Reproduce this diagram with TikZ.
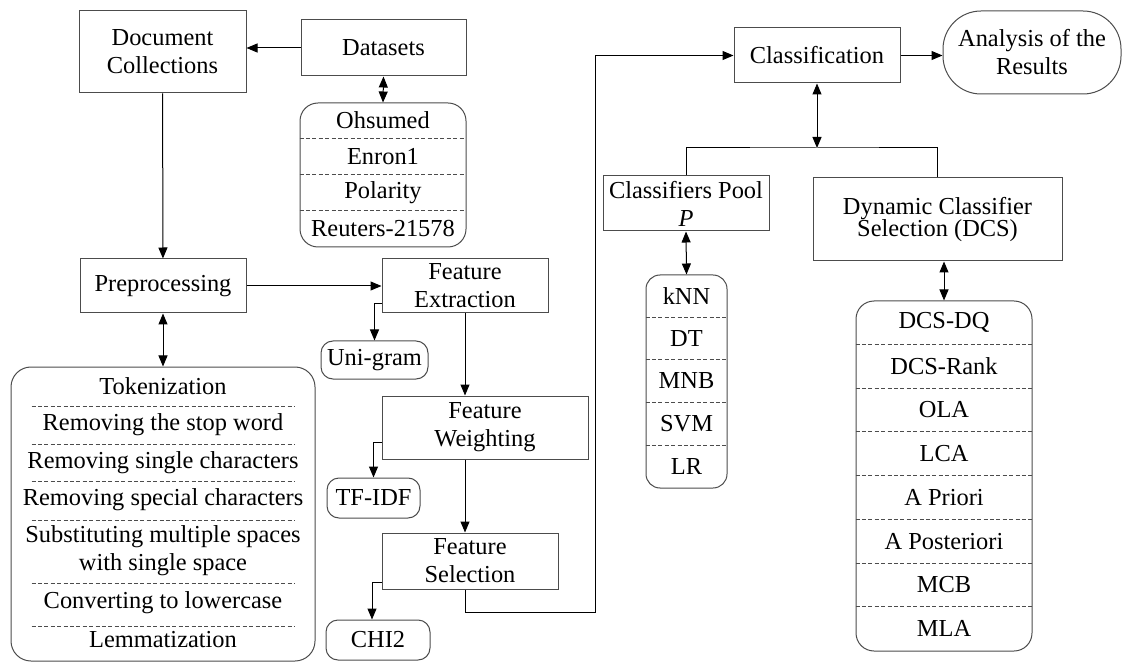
\documentclass[tikz,border=0pt]{standalone}
\usepackage{fontspec}
\setmainfont{Liberation Serif}
\usetikzlibrary{arrows.meta}

\begin{document}
\begin{tikzpicture}[x=0.5pt, y=-0.5pt, line width=0.5pt, >={Triangle[length=5.5pt,width=4.5pt]},
	every node/.style = {font=\fontsize{12.2}{14}\selectfont},
	main/.style = {draw=black!70, align=center, inner sep=0pt},
	list/.style = {draw=black!70, rounded corners=9pt, inner sep=0pt},
	leaf/.style = {draw=black!70, rounded corners=6pt, inner sep=0pt},
	sep/.style = {draw=black!70, line width=0.4pt, dash pattern=on 2pt off 1.2pt}]
	\useasboundingbox (0,0) rectangle (1123,662);
	% left column
	\node[main, minimum width=83.5pt, minimum height=41pt] (doc) at (162.5,52) {Document\\Collections};
	\node[main, minimum width=82.5pt, minimum height=28pt] (data) at (383.5,48) {Datasets};
	\node[list, minimum width=83pt, minimum height=72pt] (dlist) at (383,175) {};
	\foreach \t [count=\i] in {Ohsumed,Enron1,Polarity,Reuters-21578}
		\path (dlist.north) ++(0,{(\i-0.5)*36}) node (d\i) {\t};
	\foreach \i in {1,2,3}
		\draw[sep] (dlist.north west) ++(0,\i*36) -- ++(166,0);
	\node[main, minimum width=83pt, minimum height=27pt] (prep) at (163,286) {Preprocessing};
	\node[list, rounded corners=10pt, minimum width=152pt, minimum height=147pt] (plist) at (163,514) {};
	\foreach \dy/\t [count=\i] in {20/Tokenization, 58/Removing the stop word, 96/Removing single characters,
			133/Removing special characters, 184/{Substituting multiple spaces\\with single space},
			236/Converting to lowercase, 273/Lemmatization}
		\path (plist.north) ++(0,\dy) node[align=center] (p\i) {\t};
	\foreach \dy in {40,78,115,154,217,260}
		\draw[sep] (plist.north west) ++(21,\dy) -- ++(263,0);
	% feature steps
	\node[main, minimum width=83pt, minimum height=27pt] (fe) at (465,286) {Feature\\Extraction};
	\node[leaf, minimum width=53.5pt, minimum height=19pt] (uni) at (374.5,360) {Uni-gram};
	\node[main, minimum width=103pt, minimum height=31.5pt] (fw) at (485,427.5) {Feature\\Weighting};
	\node[leaf, minimum width=46.5pt, minimum height=20pt] (tfidf) at (373.5,498) {TF-IDF};
	\node[main, minimum width=88pt, minimum height=28pt] (fs) at (470,561) {Feature\\Selection};
	\node[leaf, minimum width=52pt, minimum height=20pt] (chi) at (378,640) {CHI2};
	% classification
	\node[main, minimum width=83pt, minimum height=27.5pt] (class) at (817,55.5) {Classification};
	\node[main, rounded corners=19pt, minimum width=89pt, minimum height=41.5pt] (res) at (1032,52.5) {Analysis of the\\Results};
	\node[main, minimum width=83pt, minimum height=27.5pt] (pool) at (686,203.5) {Classifiers Pool\\\textit{P}};
	\node[main, minimum width=124.5pt, minimum height=41.5pt] (dcs) at (937.5,219.5) {Dynamic Classifier\\[-3pt]Selection (DCS)};
	\node[list, rounded corners=7pt, minimum width=40.5pt, minimum height=106.5pt] (clist) at (686.5,381.5) {};
	\foreach \t [count=\i] in {kNN,DT,MNB,SVM,LR}
		\path (clist.north) ++(0,{(\i-0.5)*42.6}) node (c\i) {\t};
	\foreach \i in {1,...,4}
		\draw[sep] (clist.north west) ++(0,\i*42.6) -- ++(81,0);
	\node[list, minimum width=88pt, minimum height=175pt] (dcslist) at (944,476) {};
	\foreach \t [count=\i] in {DCS-DQ,DCS-Rank,OLA,LCA,A Priori,A Posteriori,MCB,MLA}
		\path (dcslist.north) ++(0,{(\i-0.5)*43.75}) node (s\i) {\t};
	\foreach \i in {1,...,7}
		\draw[sep] (dcslist.north west) ++(0,\i*43.75) -- ++(176,0);
	% connectors
	\coordinate (fwout) at ([xshift=-10pt]fw.south);
	\coordinate (turn) at (595,612);
	\coordinate (split) at (817,148);
	\draw[->] (data.west) -- (data.west -| doc.east);
	\draw[<->] (data.south) -- (dlist.north);
	\draw[->] (doc) -- (prep);
	\draw[<->] (prep) -- (plist);
	\draw[->] (prep) -- (fe);
	\draw[->] ([yshift=5pt]fe.south west) -| (uni.north);
	\draw[->] (fe.south) -- (fe.south |- fw.north);
	\draw[->] ([yshift=8.5pt]fw.south west) -| (tfidf.north);
	\draw[->] (fwout) -- (fwout |- fs.north);
	\draw[->] ([yshift=3.5pt]fs.south west) -| ([xshift=-3pt]chi.north);
	\draw[->] ([xshift=-2.5pt]fs.south) |- (turn) |- (class.west);
	\draw[->] (class.east) -- (class.east -| res.west);
	\draw[<->] (class.south) -- (split);
	\draw (pool.north) |- (split) -| (dcs.north);
	\draw[<->] (pool.south) -- (clist.north);
	\draw[<->] (dcslist.north |- dcs.south) -- (dcslist.north);
\end{tikzpicture}
\end{document}
